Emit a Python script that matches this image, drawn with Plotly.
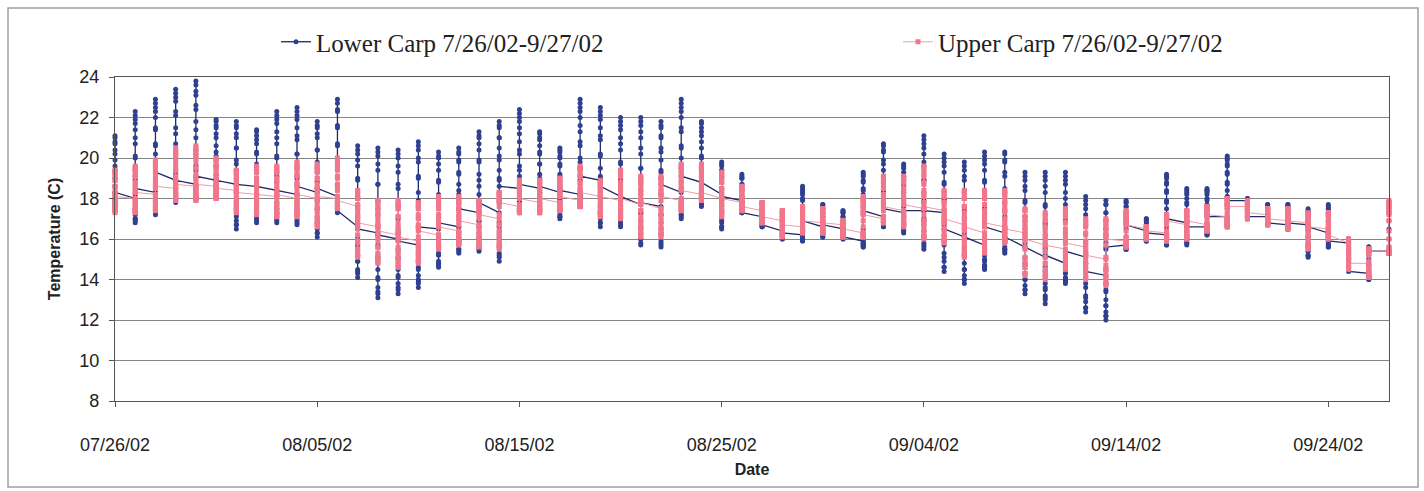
import datetime as dt
import plotly.graph_objects as go

START_DATE = "2002-07-26"
END_DATE = "2002-09-27"

# Hourly logger readings in tenths of a degree C, one string per day (00:00 first).
LOWER_CARP = [
    "180 179 178 177 176 175 174 174 176 178 183 190 196 202 207 210 211 208 204 199 194 190 186 183",
    "180 178 175 173 172 170 169 168 170 175 182 191 201 210 217 221 223 219 214 207 200 194 189 185",
    "183 181 179 177 175 174 173 172 174 179 186 196 206 215 223 227 229 225 220 214 207 202 197 193",
    "189 187 185 183 181 180 179 178 180 185 192 202 212 221 228 232 234 230 223 215 207 200 194 189",
    "187 185 184 183 181 180 180 179 181 186 194 204 214 224 231 236 238 233 226 218 210 202 196 191",
    "189 187 186 184 183 182 181 180 182 185 190 196 203 210 215 218 219 216 212 206 201 196 192 189",
    "187 183 179 175 172 169 167 165 167 171 178 187 197 205 212 216 218 215 210 205 199 194 190 187",
    "186 182 179 176 173 171 169 168 170 174 180 187 196 203 209 213 214 211 207 202 197 193 189 186",
    "184 181 178 175 173 171 169 168 170 175 182 191 201 210 217 221 223 219 213 207 200 193 188 184",
    "182 179 176 174 172 170 168 167 169 174 182 191 202 211 219 223 225 221 215 209 202 195 190 186",
    "183 179 175 171 168 165 163 161 163 168 175 185 195 204 212 216 218 215 210 204 198 193 188 185",
    "181 179 178 177 175 174 174 173 175 180 187 197 207 216 223 227 229 224 215 206 196 187 180 174",
    "166 161 157 152 149 145 143 141 144 149 157 168 180 190 199 204 206 202 196 189 181 175 169 165",
    "163 157 151 145 141 136 133 131 134 140 150 162 175 187 197 203 205 201 194 187 179 172 166 162",
    "160 155 150 145 141 138 135 133 136 142 151 163 176 187 196 202 204 200 193 185 177 170 164 159",
    "157 153 149 146 142 140 138 136 139 145 154 166 179 191 200 206 208 204 198 190 183 176 170 166",
    "165 161 158 155 152 149 147 146 148 153 160 170 180 189 197 201 203 200 194 188 182 176 172 168",
    "166 163 161 159 157 155 154 153 155 159 166 175 184 193 199 203 205 202 198 192 187 182 178 175",
    "173 169 166 163 160 157 155 154 156 161 169 179 189 199 207 211 213 210 204 198 192 186 182 178",
    "173 168 164 160 156 153 151 149 152 157 166 178 190 201 210 216 218 215 210 205 199 194 189 186",
    "185 183 180 178 177 175 174 173 175 179 186 194 204 212 218 222 224 220 215 208 202 196 191 187",
    "185 183 180 178 177 175 174 173 175 178 183 190 197 203 209 212 213 210 206 202 197 192 189 186",
    "183 180 178 176 174 172 171 170 171 174 179 185 191 197 201 204 205 203 200 196 192 189 186 184",
    "182 181 180 179 178 177 176 176 178 182 189 198 208 216 223 227 229 225 220 213 206 200 195 191",
    "189 184 180 176 173 170 168 166 168 173 181 191 201 211 219 223 225 221 215 209 202 195 190 186",
    "181 178 175 173 171 169 167 166 168 173 180 189 198 207 214 218 220 216 210 204 197 190 185 181",
    "177 173 169 166 163 160 158 157 160 165 173 184 195 205 213 218 220 216 210 202 195 188 182 178",
    "176 172 168 165 162 159 157 156 158 163 172 182 193 203 211 216 218 215 210 205 199 194 190 187",
    "183 180 178 176 174 172 171 170 172 177 185 195 205 215 223 227 229 225 220 213 206 200 195 191",
    "188 186 183 181 180 178 177 176 178 181 187 194 201 208 213 217 218 215 211 205 200 195 191 188",
    "182 179 176 173 170 168 166 165 166 169 173 179 185 190 194 197 198 196 194 191 188 185 183 181",
    "179 178 177 176 175 174 173 173 174 175 178 181 184 187 190 191 192 190 187 184 181 178 175 173",
    "171 170 169 168 168 167 166 166 166 167 169 171 173 175 177 178 178 177 175 173 171 170 168 167",
    "164 163 162 162 161 161 160 160 161 162 164 166 168 171 173 174 174 173 171 169 167 166 164 163",
    "162 161 161 160 160 160 159 159 160 162 166 170 175 180 183 185 186 184 182 179 176 173 171 169",
    "166 165 164 163 163 162 161 161 162 163 165 168 171 173 175 177 177 176 175 173 171 169 168 167",
    "165 164 163 162 162 161 160 160 161 162 164 166 168 171 173 174 174 173 171 169 166 164 162 161",
    "159 158 158 157 157 157 156 156 158 160 165 172 178 184 189 192 193 191 188 185 182 179 176 174",
    "171 170 169 168 168 167 166 166 168 171 176 183 191 197 203 206 207 204 199 194 188 183 178 175",
    "173 171 169 168 166 165 164 163 164 167 172 177 183 189 193 196 197 195 191 187 183 180 176 174",
    "174 170 167 164 161 158 156 155 157 162 169 179 189 198 205 209 211 207 202 196 189 183 178 174",
    "173 167 162 157 153 149 146 144 146 151 159 168 179 188 196 200 202 198 193 187 180 174 169 165",
    "161 156 152 148 145 142 140 138 140 145 153 163 174 184 191 196 198 194 189 183 176 170 165 161",
    "157 155 152 150 149 147 146 145 147 152 160 169 180 189 197 201 203 199 194 188 181 175 170 166",
    "163 161 159 158 156 155 154 153 155 159 166 174 183 191 198 202 203 199 193 185 178 171 165 161",
    "156 151 147 143 140 137 135 133 135 140 148 158 169 179 186 191 193 189 184 178 171 165 160 156",
    "151 146 142 138 135 132 130 128 131 136 144 155 167 177 186 191 193 189 183 176 168 162 156 152",
    "148 146 144 143 141 140 139 138 140 145 152 161 171 180 187 191 193 189 183 177 170 163 158 154",
    "151 146 141 136 132 129 126 124 126 131 138 148 158 167 175 179 181 177 172 166 159 153 148 144",
    "142 138 134 130 127 124 122 120 122 127 135 145 155 165 173 177 179 177 173 169 165 162 158 156",
    "157 157 156 156 156 155 155 155 156 158 161 165 169 173 176 178 179 178 176 174 172 170 168 167",
    "164 163 162 161 160 160 159 159 159 160 162 164 166 167 169 170 170 169 168 167 166 165 164 163",
    "162 161 160 159 158 158 157 157 158 161 166 172 178 184 188 191 192 190 187 183 179 175 172 170",
    "168 166 164 162 160 159 158 157 158 160 164 169 174 178 182 184 185 183 180 177 174 171 168 166",
    "166 165 164 164 163 163 162 162 163 165 168 172 176 180 183 184 185 184 182 179 177 174 172 171",
    "171 170 169 168 168 167 166 166 167 170 175 181 187 193 197 200 201 199 196 192 188 184 181 179",
    "179 177 176 174 173 172 171 170 170 171 173 174 176 178 179 180 180 179 178 176 175 173 172 171",
    "171 170 169 169 168 168 167 167 167 168 170 171 173 175 176 177 177 176 175 173 172 170 169 168",
    "167 167 166 166 166 165 165 165 165 166 168 170 172 174 176 177 177 176 175 173 172 170 169 168",
    "167 164 161 158 156 154 152 151 152 154 157 161 165 169 172 174 175 174 173 171 170 168 167 166",
    "163 162 160 159 158 157 156 156 157 159 161 165 169 172 175 176 177 175 173 169 166 163 161 159",
    "158 156 155 154 152 151 151 150 150 151 153 154 156 158 159 160 160 158 156 153 150 148 146 144",
    "143 142 142 141 141 141 140 140 141 142 144 147 150 152 154 156 156 156 155 155 155 154 154 154",
    "154 153 153 153 153 153 153 153 154 156 160 165 169",
]

UPPER_CARP = [
    "180 179 177 176 175 174 174 173 174 176 178 182 186 189 192 193 194 193 191 189 186 184 182 181",
    "180 179 177 176 175 174 174 173 174 176 179 183 187 191 194 195 196 195 193 191 188 186 184 183",
    "182 180 179 178 176 175 175 174 175 177 180 185 189 193 196 198 199 198 196 194 191 189 187 186",
    "185 184 183 182 181 180 179 179 180 182 186 190 195 199 202 204 205 203 201 197 194 191 189 187",
    "186 185 183 182 181 180 180 179 180 182 186 190 195 200 203 205 206 204 201 198 195 192 189 187",
    "186 185 184 183 182 181 180 180 181 182 185 188 192 195 198 199 200 199 196 194 191 189 187 185",
    "184 182 180 178 176 175 174 173 174 176 178 182 186 189 192 193 194 193 191 189 187 186 184 183",
    "182 180 178 177 175 174 173 172 173 175 178 182 186 190 193 195 196 195 193 190 188 185 183 182",
    "181 179 177 176 174 173 172 171 172 174 177 182 186 190 193 195 196 195 193 190 188 185 183 182",
    "180 178 177 175 174 173 172 171 172 174 178 182 187 192 195 197 198 196 194 191 188 186 184 182",
    "180 177 175 172 170 168 167 166 167 170 174 179 185 190 194 196 197 195 193 190 187 185 183 181",
    "180 179 178 177 176 176 175 175 176 178 181 186 190 194 197 199 200 198 195 191 187 184 181 179",
    "176 171 166 162 158 155 153 151 152 155 159 165 171 176 180 183 184 182 180 177 174 172 170 168",
    "166 162 159 156 153 151 149 148 149 152 156 161 167 172 176 178 179 178 175 173 170 168 166 164",
    "162 159 156 153 151 149 147 146 147 150 154 160 166 171 175 178 179 177 175 171 168 165 163 161",
    "159 157 155 153 151 150 149 148 149 152 156 161 166 171 175 177 178 177 175 172 170 167 165 164",
    "162 161 159 158 157 156 156 155 156 158 162 166 171 175 178 180 181 180 177 175 172 170 168 166",
    "164 163 161 160 159 158 158 157 158 160 163 167 171 175 178 180 181 180 178 176 174 172 170 169",
    "167 165 163 161 159 158 157 156 157 159 162 166 170 173 176 178 179 178 177 176 175 174 173 172",
    "170 167 164 162 160 158 156 155 156 158 162 167 172 176 180 182 183 183 182 181 180 179 179 178",
    "176 175 175 174 174 174 173 173 174 175 177 180 183 185 187 189 189 188 187 185 184 182 181 180",
    "178 177 176 175 175 174 173 173 174 175 177 180 183 185 187 189 189 188 187 185 184 182 181 180",
    "178 177 176 176 175 175 174 174 175 176 178 181 184 186 188 190 190 189 188 186 185 183 182 181",
    "179 178 178 177 177 176 176 176 177 178 181 184 188 191 194 195 196 195 193 191 188 186 184 183",
    "181 179 177 176 174 173 172 171 172 173 176 179 182 185 187 188 189 188 187 186 184 183 182 181",
    "179 177 176 174 173 172 171 170 171 173 176 180 184 188 191 193 194 193 191 188 186 183 181 180",
    "177 174 171 168 166 164 162 161 162 165 169 174 179 184 188 190 191 190 188 186 183 181 179 178",
    "175 172 170 167 165 163 162 161 162 165 169 174 179 184 188 190 191 190 189 187 185 183 182 181",
    "179 178 177 176 176 175 174 174 175 177 180 184 188 191 194 196 197 196 194 192 189 187 185 184",
    "182 181 181 180 180 180 179 179 180 181 184 187 190 193 195 196 197 196 194 191 189 186 184 183",
    "180 178 177 175 174 173 172 171 172 174 177 180 184 188 191 192 193 192 190 188 185 183 181 180",
    "178 177 176 176 175 175 174 174 174 175 177 179 181 183 185 186 186 185 184 182 180 178 177 176",
    "174 173 172 171 170 169 168 168 168 169 171 172 174 176 177 178 178 177 176 175 174 173 172 171",
    "169 167 166 165 163 162 162 161 162 163 164 166 169 171 173 174 174 173 172 171 170 169 168 167",
    "166 165 165 164 164 164 163 163 164 165 166 168 171 173 175 176 176 175 174 173 172 171 170 169",
    "168 167 166 165 165 164 163 163 163 164 166 168 170 172 174 175 175 174 173 172 171 170 169 168",
    "167 166 165 164 163 162 161 161 161 162 163 164 166 167 168 169 169 169 168 167 167 166 166 165",
    "163 163 162 162 162 161 161 161 162 163 166 169 173 176 179 180 181 180 179 177 176 174 173 172",
    "170 170 169 169 169 168 168 168 169 171 174 178 182 185 188 190 191 190 187 185 182 180 178 176",
    "174 172 171 170 168 167 167 166 167 169 172 177 181 185 188 190 191 190 188 185 183 180 178 177",
    "175 172 169 167 165 163 161 160 161 164 169 175 182 187 192 195 196 194 191 188 184 181 178 176",
    "174 171 168 165 163 161 159 158 159 161 165 169 174 178 181 183 184 183 181 178 176 173 171 170",
    "167 164 161 158 156 154 152 151 152 155 159 165 171 176 180 183 184 182 180 176 173 170 168 166",
    "163 161 159 158 156 155 154 153 154 157 161 166 172 177 181 183 184 182 180 177 174 172 170 168",
    "166 164 163 162 160 159 159 158 159 161 165 169 174 178 181 183 184 182 179 176 173 170 167 165",
    "163 159 155 151 148 146 143 142 143 146 150 156 162 167 171 174 175 174 171 169 166 164 162 160",
    "157 154 151 148 145 143 141 140 141 144 148 154 160 165 169 172 173 171 169 166 163 161 159 157",
    "155 153 151 150 148 147 146 145 146 149 153 158 163 168 172 174 175 173 171 168 165 162 160 158",
    "156 153 150 147 145 143 141 140 141 144 148 153 158 163 167 169 170 168 166 162 159 156 154 152",
    "150 147 145 143 141 139 138 137 138 141 145 151 157 162 166 169 170 169 168 166 164 162 161 160",
    "159 158 158 157 157 157 156 156 157 158 161 164 167 170 172 173 174 173 172 171 170 169 168 167",
    "165 164 163 162 161 161 160 160 160 161 162 163 164 165 165 166 166 166 165 165 165 164 164 164",
    "163 162 161 161 160 160 159 159 160 161 162 164 167 169 171 172 172 172 171 171 170 170 169 169",
    "167 166 164 163 162 161 160 160 161 162 164 166 168 171 172 174 174 173 173 172 171 170 170 169",
    "167 166 166 165 165 165 164 164 164 165 167 169 171 173 175 176 176 176 175 174 174 173 172 172",
    "171 170 169 168 168 167 166 166 167 168 170 172 174 177 178 180 180 180 179 178 177 177 176 176",
    "176 175 174 173 172 171 170 170 170 171 172 174 175 177 178 179 179 178 178 176 175 174 174 173",
    "172 171 170 169 168 168 167 167 167 168 169 170 172 173 174 175 175 175 174 173 172 171 171 170",
    "169 168 167 167 166 166 165 165 165 166 168 169 171 173 174 175 175 174 174 172 171 170 170 169",
    "168 165 163 161 159 157 156 155 156 157 160 163 166 169 171 172 173 172 171 170 169 168 167 166",
    "165 164 163 162 162 161 160 160 161 162 163 165 168 170 172 173 173 172 170 168 166 165 163 162",
    "158 155 153 151 149 147 146 145 146 147 149 151 154 156 158 160 160 159 157 155 153 151 149 148",
    "148 147 145 144 143 142 141 141 142 143 145 147 149 152 153 155 155 155 155 155 154 154 154 154",
    "154 154 154 153 153 153 153 153 154 156 160 164 169 173 176 178 179 178 177 176 175 174 173 172",
]

SERIES_NAMES = ["Lower Carp 7/26/02-9/27/02", "Upper Carp 7/26/02-9/27/02"]
TEMP_TICKS = [8, 10, 12, 14, 16, 18, 20, 22, 24]
DATE_TICKS = ["2002-07-26", "2002-08-05", "2002-08-15", "2002-08-25",
              "2002-09-04", "2002-09-14", "2002-09-24"]
DATE_TICK_TEXT = ["07/26/02", "08/05/02", "08/15/02", "08/25/02",
                  "09/04/02", "09/14/02", "09/24/02"]

LOWER_LINE = "#1f2a66"
LOWER_MARK = "#2f4090"
UPPER_LINE = "#f49aaa"
UPPER_MARK = "#f2768b"
SANS = "Liberation Sans, Arial, sans-serif"
SERIF = "Liberation Serif, Times New Roman, serif"


def day_readings(days):
    """Flatten per-day strings into (date, temperature) pairs; every reading
    of a day sits on that day's date, so each day becomes a vertical run."""
    start = dt.date.fromisoformat(START_DATE)
    xs, ys = [], []
    for i, day in enumerate(days):
        stamp = (start + dt.timedelta(days=i)).isoformat()
        for v in day.split():
            xs.append(stamp)
            ys.append(int(v) / 10.0)
    return xs, ys


lx, ly = day_readings(LOWER_CARP)
ux, uy = day_readings(UPPER_CARP)

fig = go.Figure()
fig.add_trace(go.Scatter(
    x=lx, y=ly, name=SERIES_NAMES[0], mode="lines+markers",
    line=dict(color=LOWER_LINE, width=1.3),
    marker=dict(symbol="circle", size=5, color=LOWER_MARK),
    cliponaxis=False, legend="legend", showlegend=True,
))
fig.add_trace(go.Scatter(
    x=ux, y=uy, name=SERIES_NAMES[1], mode="lines+markers",
    line=dict(color=UPPER_LINE, width=1),
    marker=dict(symbol="square", size=5, color=UPPER_MARK),
    cliponaxis=False, legend="legend2", showlegend=True,
))

W, H = 1424, 491
L, R, T, B = 115, 35, 77, 90
pw, ph = W - L - R, H - T - B


def px_x(px):
    return (px - L) / pw


def px_y(py):
    return (H - B - py) / ph


legend_common = dict(
    orientation="h", yanchor="middle", xanchor="left",
    font=dict(family=SERIF, size=25, color="#222222"),
    bgcolor="rgba(0,0,0,0)", borderwidth=0, itemwidth=30,
)

fig.update_layout(
    width=W, height=H, autosize=False, showlegend=True,
    margin=dict(l=L, r=R, t=T, b=B),
    paper_bgcolor="white", plot_bgcolor="white",
    legend=dict(x=px_x(276), y=px_y(42), **legend_common),
    legend2=dict(x=px_x(898), y=px_y(42), **legend_common),
    xaxis=dict(
        type="date", range=[START_DATE, END_DATE],
        tickmode="array", tickvals=DATE_TICKS, ticktext=DATE_TICK_TEXT,
        ticks="outside", ticklen=5, tickcolor="#555555",
        ticklabelstandoff=22,
        tickfont=dict(family=SANS, size=18, color="#222222"),
        showgrid=False, zeroline=False,
        showline=True, linecolor="#555555", linewidth=1.2, mirror=True,
        title=dict(text="<b>Date</b>", standoff=10,
                   font=dict(family=SANS, size=16, color="#222222")),
    ),
    yaxis=dict(
        range=[8, 24], tickmode="array", tickvals=TEMP_TICKS,
        ticks="outside", ticklen=5, tickcolor="#555555",
        ticklabelstandoff=6,
        tickfont=dict(family=SANS, size=18, color="#222222"),
        showgrid=True, gridcolor="#858585", gridwidth=1.3, zeroline=False,
        showline=True, linecolor="#555555", linewidth=1.2, mirror=True,
        title=dict(text="<b>Temperature (C)</b>", standoff=14,
                   font=dict(family=SANS, size=16, color="#222222")),
    ),
    shapes=[dict(
        type="rect", xref="paper", yref="paper",
        x0=px_x(8), x1=px_x(1418), y0=px_y(487), y1=px_y(8),
        line=dict(color="#a0a0a0", width=1.5), layer="below",
    )],
)

fig.write_html("out.html")
